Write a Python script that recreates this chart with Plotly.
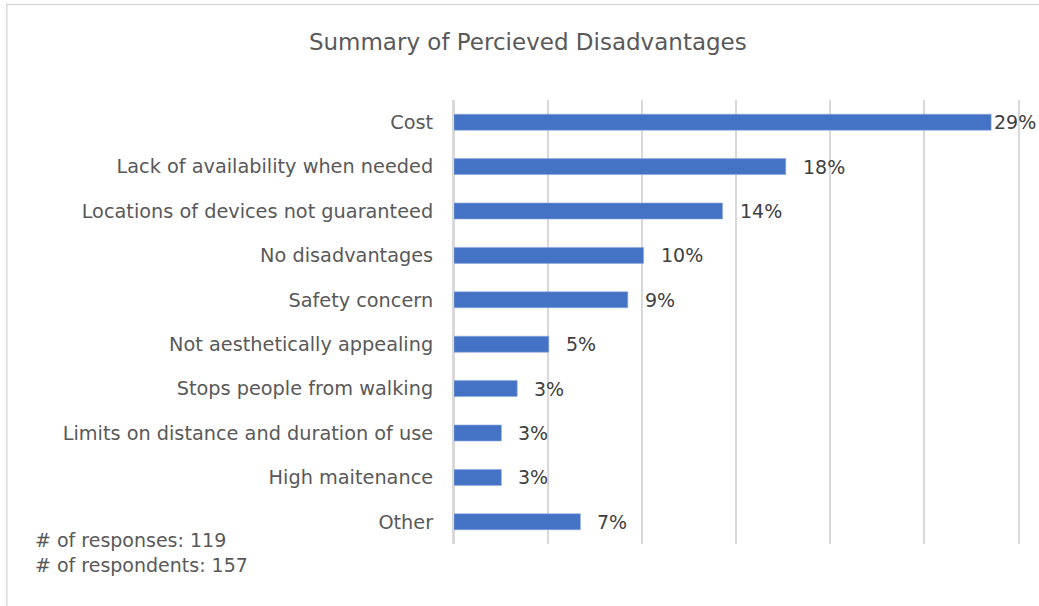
import plotly.graph_objects as go

# Survey answers: perceived disadvantages (counts of responses)
categories = [
    "Cost",
    "Lack of availability when needed",
    "Locations of devices not guaranteed",
    "No disadvantages",
    "Safety concern",
    "Not aesthetically appealing",
    "Stops people from walking",
    "Limits on distance and duration of use",
    "High maitenance",
    "Other",
]
counts = [34, 21, 17, 12, 11, 6, 4, 3, 3, 8]
total_responses = 119
total_respondents = 157

shares = [c / total_responses for c in counts]

FONT = "DejaVu Sans"
GREY_TEXT = "#595959"
LABEL_TEXT = "#404040"
BAR_COLOR = "#4472C4"
GRID = "#d9d9d9"

fig = go.Figure(
    go.Bar(
        x=shares,
        y=categories,
        orientation="h",
        marker=dict(color=BAR_COLOR, line=dict(color="#8faadc", width=0.6)),
        width=0.36,
        hoverinfo="x+y",
    )
)

# value labels just past the end of each bar (the longest one tucked in to stay on the canvas)
for cat, s in zip(categories, shares):
    shift = 1 if s > 0.27 else 15
    fig.add_annotation(
        x=s, y=cat, xref="x", yref="y",
        text=f"{s:.0%}", showarrow=False,
        xanchor="left", yanchor="middle", xshift=shift,
        font=dict(family=FONT, size=19, color=LABEL_TEXT),
    )

fig.add_annotation(
    x=-0.747, y=0.009, xref="paper", yref="paper",
    text=f"# of responses: {total_responses}",
    showarrow=False, xanchor="left", yanchor="middle",
    font=dict(family=FONT, size=19, color=GREY_TEXT),
)
fig.add_annotation(
    x=-0.747, y=-0.047, xref="paper", yref="paper",
    text=f"# of respondents: {total_respondents}",
    showarrow=False, xanchor="left", yanchor="middle",
    font=dict(family=FONT, size=19, color=GREY_TEXT),
)

# outer chart frame
fig.add_shape(
    type="rect", xref="paper", yref="paper",
    x0=-0.793, x1=1.2, y0=-0.3, y1=1.215,
    line=dict(color=GRID, width=1.5), layer="below",
)

fig.update_layout(
    width=1039, height=606,
    margin=dict(l=454, r=21, t=100, b=62),
    paper_bgcolor="white", plot_bgcolor="white",
    title=dict(
        text="Summary of Percieved Disadvantages",
        x=0.508, xanchor="center", y=0.93, yanchor="middle",
        font=dict(family=FONT, size=23, color=GREY_TEXT),
    ),
    showlegend=False,
    xaxis=dict(
        range=[0, 0.30], dtick=0.05, tick0=0,
        showticklabels=False, ticks="",
        showgrid=True, gridcolor=GRID, gridwidth=2,
        zeroline=True, zerolinecolor=GRID, zerolinewidth=2,
        showline=False, fixedrange=True,
    ),
    yaxis=dict(
        autorange="reversed",
        ticks="", ticklabelstandoff=15,
        tickfont=dict(family=FONT, size=19.3, color=GREY_TEXT),
        showgrid=False, zeroline=False,
        showline=True, mirror=True, linecolor=GRID, linewidth=2,
    ),
)

fig.write_html("out.html")
